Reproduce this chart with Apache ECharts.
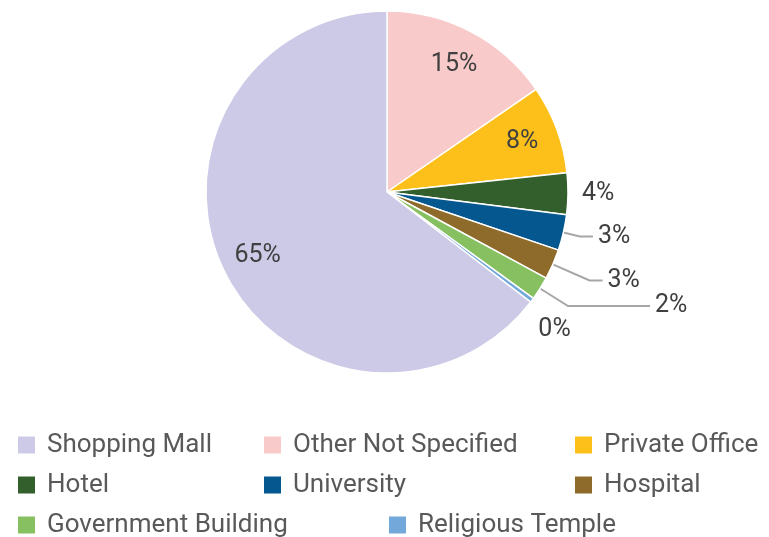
<!DOCTYPE html>
<html>
<head>
<meta charset="UTF-8">
<title>pie</title>
<script type="text/javascript" src="https://cdn.jsdelivr.net/npm/echarts@6/dist/echarts.min.js"></script>
<style>
    html, body { margin: 0; padding: 0; background: #fff; }
    #main { width: 769px; height: 537px; }
</style>
</head>
<body>
<div id="main"></div>
<script>
// slices in drawing order, clockwise from 12 o'clock
var sliceNames = ['Other Not Specified', 'Private Office', 'Hotel', 'University', 'Hospital', 'Government Building', 'Religious Temple', 'Shopping Mall'];
var sliceValues = [15.4, 7.9, 3.7, 3.2, 2.7, 2.1, 0.4, 64.6];
var sliceColors = ['#F9CACA', '#FDC01A', '#335F2D', '#05578F', '#8E6B2A', '#86C060', '#73A8DB', '#CCCAE6'];
var legendNames = ['Shopping Mall', 'Other Not Specified', 'Private Office', 'Hotel', 'University', 'Hospital', 'Government Building', 'Religious Temple'];

var font = 'Roboto';
var cx = 387, cy = 192, R = 181;

// callout line per small slice: [length, length2, line visible]
var callouts = {
    'Hotel': [5, 4, false],
    'University': [17, 13, true],
    'Hospital': [40, 13, true],
    'Government Building': [33, 82, true],
    'Religious Temple': [49, -38, false]
};

// legend spots (icon left, row centre)
var legendSpots = [[16, 445], [262, 445], [573, 445], [16, 485], [262, 485], [573, 485], [16, 525], [387, 525]];

var chart = echarts.init(document.getElementById('main'));

var shapeData = [], labelData = [];
for (var i = 0; i < sliceNames.length; i++) {
    var big = sliceValues[i] > 5;
    var c = callouts[sliceNames[i]] || [10, 10, false];
    shapeData.push({
        name: sliceNames[i],
        value: sliceValues[i],
        itemStyle: { color: sliceColors[i] },
        label: { show: !big },
        labelLine: { show: !big && c[2], length: c[0], length2: c[1] }
    });
    labelData.push({
        name: sliceNames[i],
        value: sliceValues[i],
        label: { show: big }
    });
}

var legends = [];
for (var j = 0; j < legendNames.length; j++) {
    legends.push({
        data: [legendNames[j]],
        left: legendSpots[j][0],
        top: legendSpots[j][1] - 13,
        padding: 0,
        icon: 'rect',
        itemWidth: 19,
        itemHeight: 19,
        selectedMode: false,
        textStyle: { fontFamily: font, fontSize: 26, color: '#595959', lineHeight: 26, padding: [0, 0, 0, 6] }
    });
}

var option = {
    animation: false,
    legend: legends,
    series: [
        {
            name: 'shape',
            type: 'pie',
            center: [cx, cy],
            radius: [0, R],
            startAngle: 90,
            clockwise: true,
            percentPrecision: 0,
            avoidLabelOverlap: false,
            data: shapeData,
            itemStyle: { borderColor: '#fff', borderWidth: 1.5 },
            label: {
                position: 'outside',
                formatter: '{d}%',
                fontFamily: font,
                fontSize: 25,
                color: '#404040'
            },
            labelLine: {
                lineStyle: { color: '#A6A6A6', width: 2 }
            },
            emphasis: { disabled: true }
        },
        {
            name: 'labels',
            type: 'pie',
            center: [cx, cy],
            radius: [R * 0.56, R],
            startAngle: 90,
            clockwise: true,
            percentPrecision: 0,
            silent: true,
            data: labelData,
            itemStyle: { color: 'rgba(0,0,0,0)' },
            label: {
                position: 'inside',
                formatter: '{d}%',
                fontFamily: font,
                fontSize: 25,
                color: '#404040'
            },
            labelLine: { show: false },
            emphasis: { disabled: true }
        }
    ]
};

chart.setOption(option);
</script>
</body>
</html>
